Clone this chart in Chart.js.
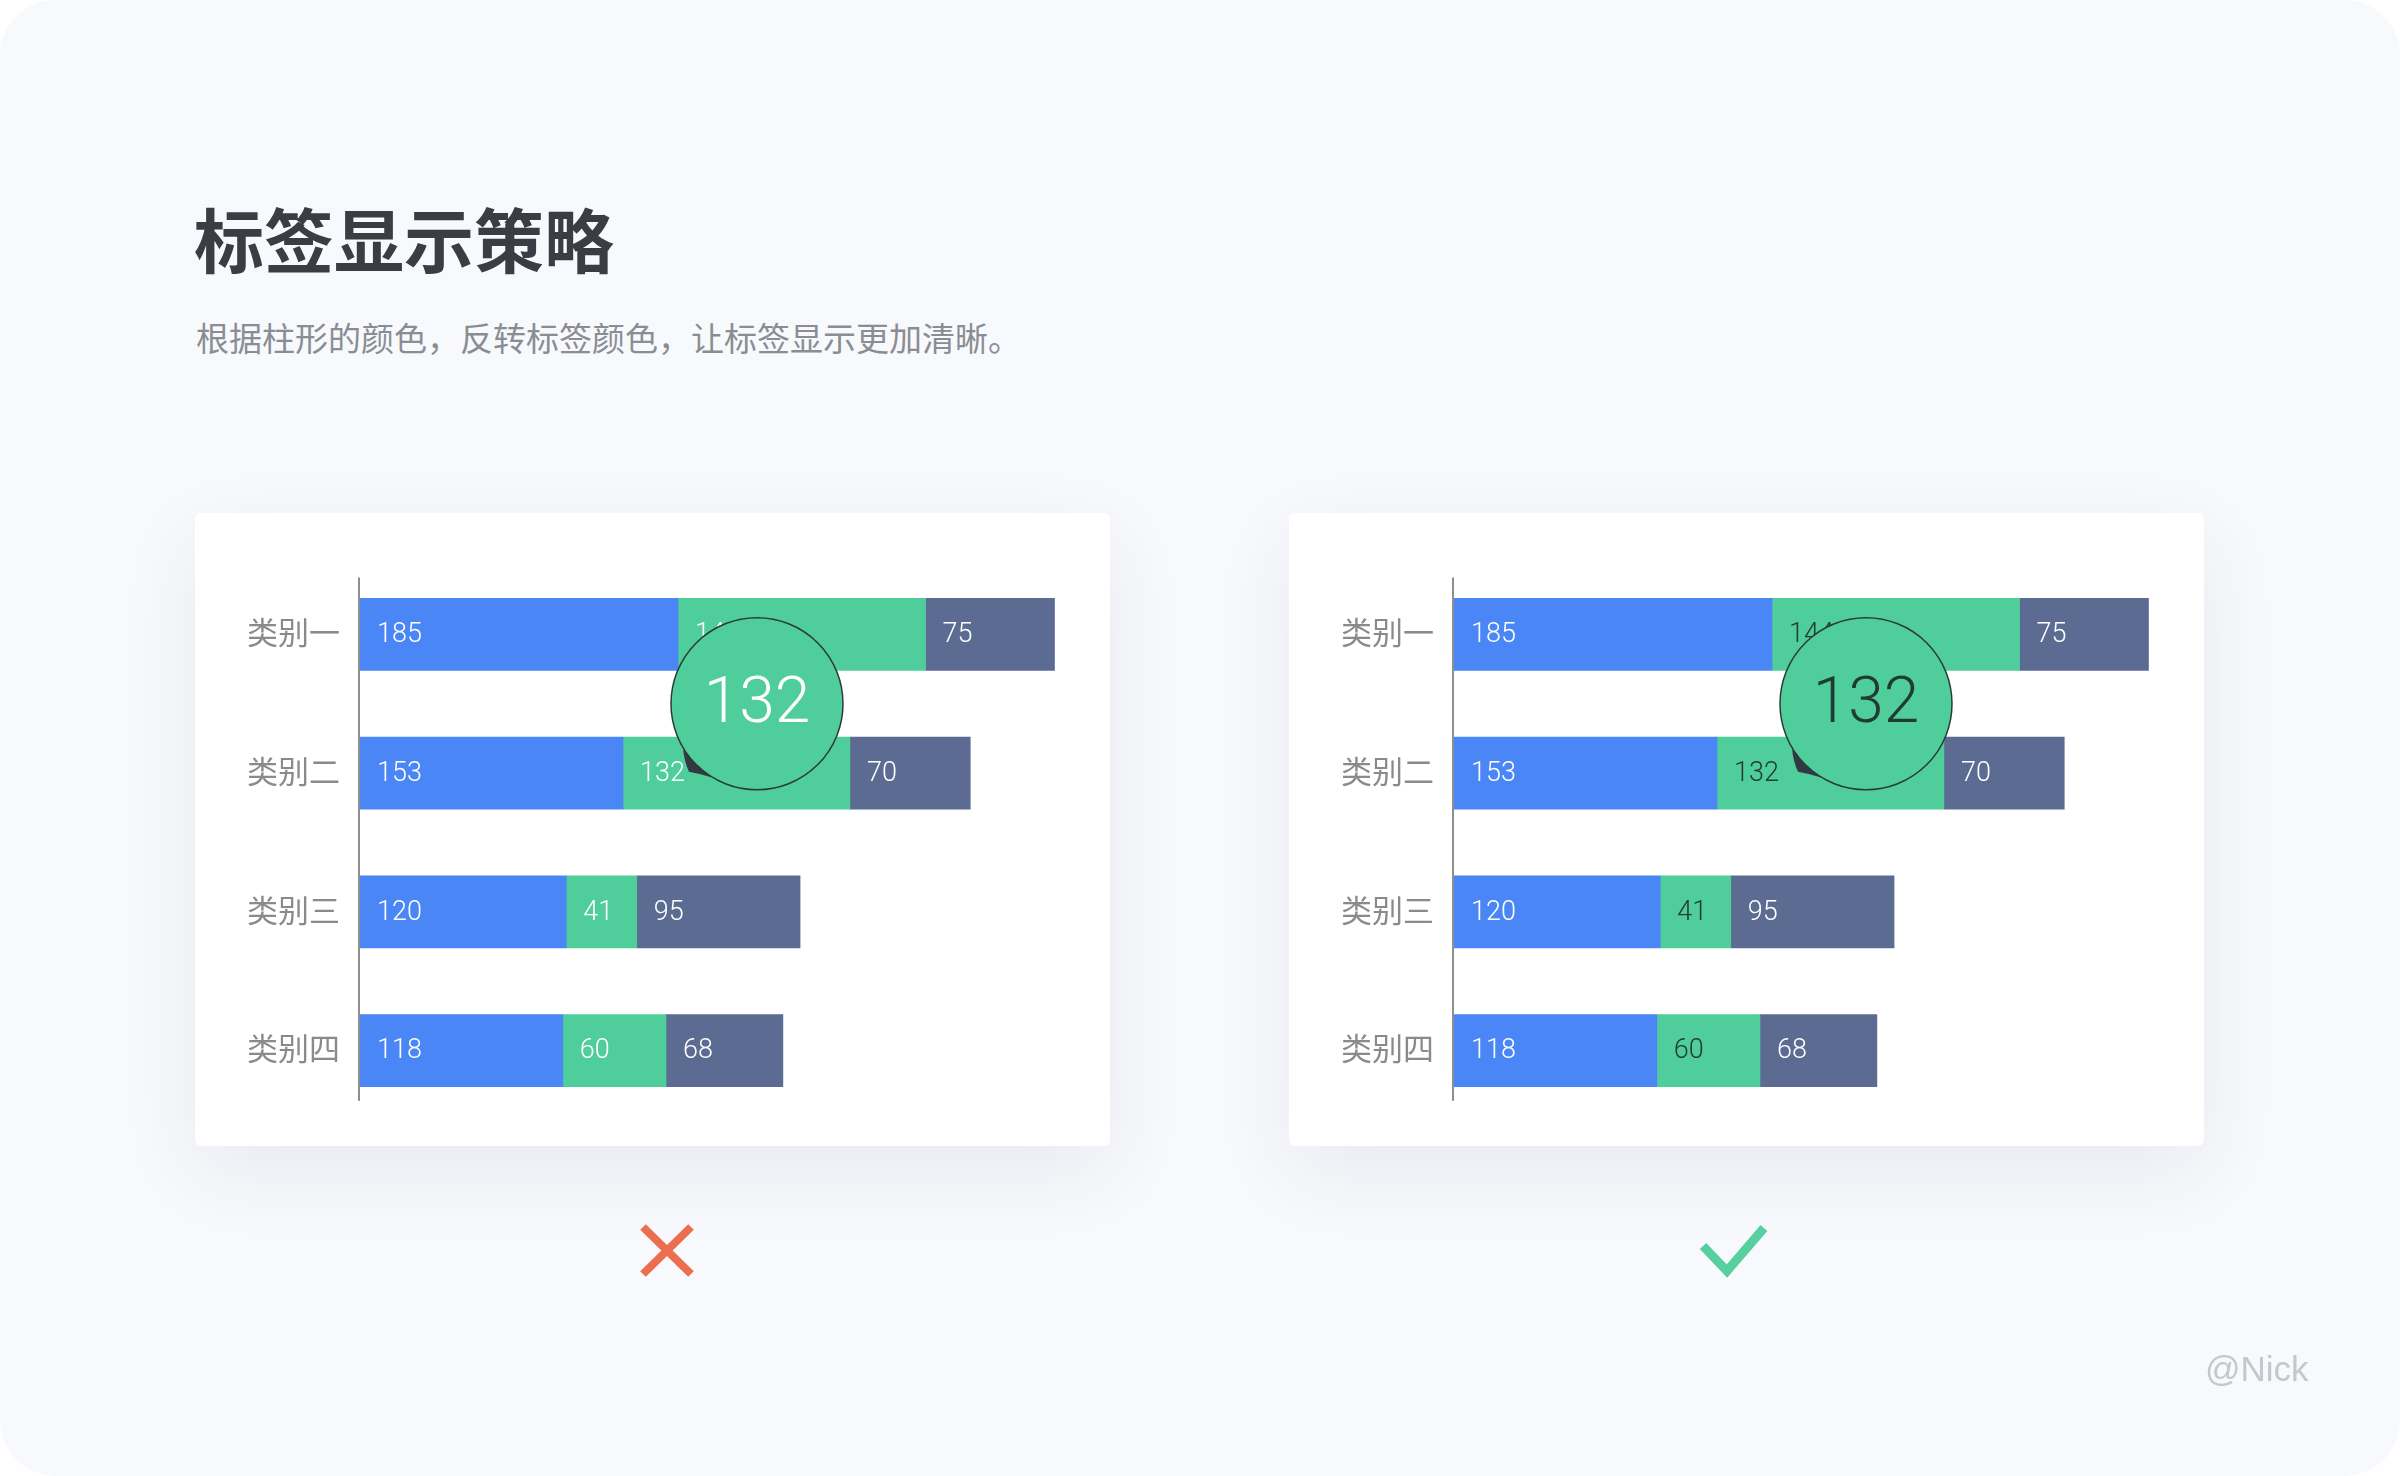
<!DOCTYPE html>
<html><head><meta charset="utf-8">
<script src="https://cdn.jsdelivr.net/npm/chart.js@4.4.1/dist/chart.umd.min.js"></script>
<style>
html,body{margin:0;padding:0;width:2400px;height:1476px;overflow:hidden;background:#ffffff;}
#page{position:absolute;left:0;top:0;width:2400px;height:1476px;background:#f8f9fc;border-radius:56px;}
.title{position:absolute;left:194px;top:203px;font:700 70px "Noto Sans CJK SC";color:#3a3d44;line-height:70px;white-space:nowrap;}
.sub{position:absolute;left:196px;top:321px;font:400 33px "Noto Sans CJK SC";color:#8a8d93;line-height:33px;white-space:nowrap;}
.card{position:absolute;top:513px;width:915px;height:633px;background:#fff;border-radius:6px;box-shadow:0 26px 80px rgba(50,60,95,0.075);}
.card canvas{position:absolute;left:0;top:0;}
.nick{position:absolute;left:2205px;top:1349px;font:400 35px "Liberation Sans";color:#c5c7cc;line-height:40px;}
svg{position:absolute;left:0;top:0;}
</style></head>
<body>
<div id="page">
  <div class="title">标签显示策略</div>
  <div class="sub">根据柱形的颜色，反转标签颜色，让标签显示更加清晰。</div>
  <div class="card" style="left:195px;"><canvas id="c1" width="915" height="633"></canvas></div>
  <div class="card" style="left:1289px;"><canvas id="c2" width="915" height="633"></canvas></div>
  <svg width="2400" height="1476">
    <path d="M643 1227 L691 1274 M691 1227 L643 1274" stroke="#ec6e50" stroke-width="8" fill="none"/>
    <polyline points="1703,1246 1727,1271 1764,1228" stroke="#57cf9e" stroke-width="9" fill="none" stroke-linejoin="miter"/>
  </svg>
  <div class="nick">@Nick</div>
</div>
<script>
// ---- data ----
const categories = ['类别一', '类别二', '类别三', '类别四'];
const seriesA = [185, 153, 120, 118];
const seriesB = [144, 132, 41, 60];
const seriesC = [75, 70, 95, 68];
const xMax = 420;

const BLUE = '#4b86f6', GREEN = '#4fcd9b', SLATE = '#5b6b92';

// y axis line + category tick labels, positioned by the category scale
const axisDecor = {
  id: 'axisDecor',
  afterDatasetsDraw(chart) {
    const {ctx, chartArea, scales} = chart;
    const y = scales.y;
    const top = y.getPixelForTick(0) - 57;
    const bottom = y.getPixelForTick(categories.length - 1) + 50;
    ctx.save();
    ctx.strokeStyle = '#8e8e8e';
    ctx.lineWidth = 2;
    ctx.beginPath();
    ctx.moveTo(chartArea.left - 1, top);
    ctx.lineTo(chartArea.left - 1, bottom);
    ctx.stroke();
    ctx.font = '400 31px "Noto Sans CJK SC"';
    ctx.fillStyle = '#8a8a8a';
    ctx.textAlign = 'right';
    ctx.textBaseline = 'middle';
    chart.data.labels.forEach((lab, i) => {
      ctx.fillText(lab, chartArea.left - 20, y.getPixelForTick(i) - 2);
    });
    ctx.restore();
  }
};

const valueLabels = {
  id: 'valueLabels',
  afterDatasetsDraw(chart, args, opts) {
    const ctx = chart.ctx;
    ctx.save();
    ctx.font = '300 27px Roboto';
    ctx.textBaseline = 'middle';
    ctx.textAlign = 'left';
    chart.data.datasets.forEach((ds, di) => {
      const meta = chart.getDatasetMeta(di);
      meta.data.forEach((bar, i) => {
        ctx.fillStyle = opts.colors[di];
        const left = Math.min(bar.x, bar.base);
        ctx.fillText(String(ds.data[i]), left + 17, bar.y + 1);
      });
    });
    ctx.restore();
  }
};

const magnifier = {
  id: 'magnifier',
  afterDraw(chart, args, o) {
    const {ctx, chartArea, scales} = chart;
    const y = scales.y;
    const cy = (y.getPixelForTick(o.row) + y.getPixelForTick(o.row - 1)) / 2;
    const cx = chartArea.left + o.dx;
    const r = 86;
    ctx.save();
    ctx.beginPath();
    ctx.moveTo(cx - 74, cy + 46);
    ctx.quadraticCurveTo(cx - 72, cy + 60, cx - 68, cy + 68);
    ctx.quadraticCurveTo(cx - 56, cy + 70, cx - 44, cy + 74);
    ctx.closePath();
    ctx.fillStyle = '#323943';
    ctx.fill();
    ctx.beginPath();
    ctx.arc(cx, cy, r, 0, Math.PI * 2);
    ctx.fillStyle = GREEN;
    ctx.fill();
    ctx.lineWidth = 1.5;
    ctx.strokeStyle = '#2b3a36';
    ctx.stroke();
    ctx.font = '300 64px Roboto';
    ctx.textAlign = 'center';
    ctx.textBaseline = 'middle';
    ctx.fillStyle = o.textColor;
    ctx.fillText(String(chart.data.datasets[o.dataset].data[o.row]), cx, cy + 2);
    ctx.restore();
  }
};

function makeChart(id, labelColors, bubbleColor, dx) {
  return new Chart(document.getElementById(id), {
    type: 'bar',
    data: {
      labels: categories,
      datasets: [
        {data: seriesA, backgroundColor: BLUE, barThickness: 72, borderWidth: 0},
        {data: seriesB, backgroundColor: GREEN, barThickness: 72, borderWidth: 0},
        {data: seriesC, backgroundColor: SLATE, barThickness: 72, borderWidth: 0}
      ]
    },
    options: {
      indexAxis: 'y',
      responsive: false,
      animation: false,
      devicePixelRatio: 1,
      layout: {padding: {left: 0, right: 28, top: 52, bottom: 26}},
      plugins: {
        legend: {display: false},
        tooltip: {enabled: false},
        valueLabels: {colors: labelColors},
        magnifier: {row: 1, dataset: 1, dx: dx, textColor: bubbleColor}
      },
      scales: {
        x: {stacked: true, min: 0, max: xMax, display: false},
        y: {
          stacked: true,
          grid: {display: false, drawTicks: false},
          border: {display: false},
          ticks: {display: false},
          afterFit(scale) { scale.width = 165; }
        }
      }
    },
    plugins: [axisDecor, valueLabels, magnifier]
  });
}

makeChart('c1', ['#ffffff', '#ffffff', '#ffffff'], '#ffffff', 397);
makeChart('c2', ['#ffffff', '#1f3b33', '#ffffff'], '#1f3b33', 412);
</script>
</body></html>
